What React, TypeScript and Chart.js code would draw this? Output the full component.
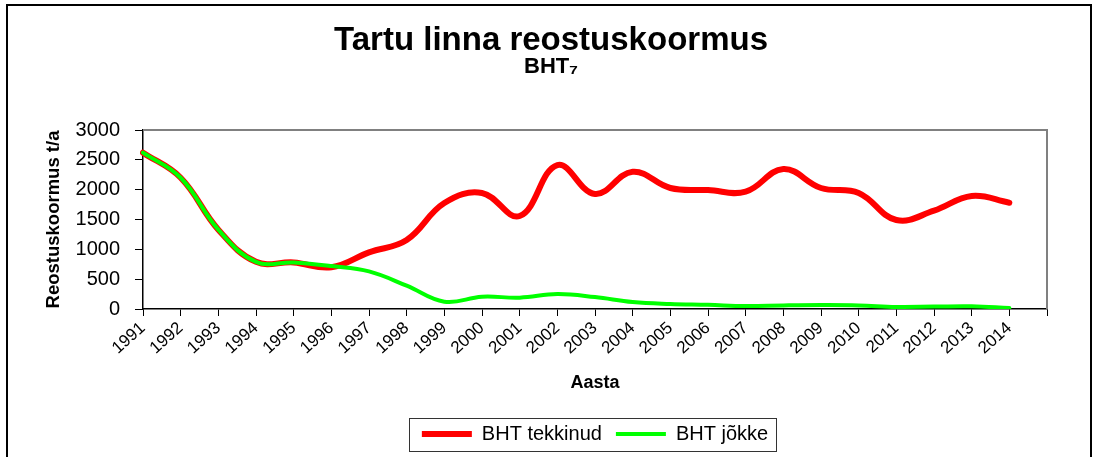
import React, { useEffect, useRef } from 'react';
import { Chart, registerables } from 'chart.js';

Chart.register(...registerables);

const years = ['1991', '1992', '1993', '1994', '1995', '1996', '1997', '1998', '1999', '2000', '2001', '2002', '2003', '2004', '2005', '2006', '2007', '2008', '2009', '2010', '2011', '2012', '2013', '2014'];
const xTickLabels = [...years, ''];
const bhtTekkinud = [2620, 2200, 1330, 790, 780, 700, 950, 1156, 1776, 1944, 1558, 2413, 1927, 2301, 2028, 1994, 1966, 2346, 2028, 1944, 1491, 1648, 1893, 1782];
const bhtJokke = [2620, 2200, 1330, 790, 780, 720, 630, 390, 122, 206, 190, 250, 200, 117, 84, 70, 50, 60, 65, 60, 35, 40, 45, 15];
const yTicks = [0, 500, 1000, 1500, 2000, 2500, 3000];

const FONT = '"Liberation Sans", Arial, sans-serif';

const plotFrame = {
  id: 'plotFrame',
  beforeDatasetsDraw(chart: any) {
    const { ctx, chartArea } = chart;
    const { left, right, top, bottom } = chartArea;
    ctx.save();
    ctx.strokeStyle = '#808080';
    ctx.lineWidth = 2;
    ctx.beginPath();
    ctx.moveTo(left, top);
    ctx.lineTo(right, top);
    ctx.lineTo(right, bottom);
    ctx.stroke();
    ctx.restore();
  },
};

const legendBorder = {
  id: 'legendBorder',
  afterDraw(chart: any) {
    const lg = chart.legend;
    if (!lg || !lg.legendHitBoxes || !lg.legendHitBoxes.length) return;
    const hb = lg.legendHitBoxes;
    const left = Math.min(...hb.map((h: any) => h.left)) - 13;
    const right = Math.max(...hb.map((h: any) => h.left + h.width)) + 8;
    const cy = hb[0].top + hb[0].height / 2;
    const ctx = chart.ctx;
    ctx.save();
    ctx.strokeStyle = '#333';
    ctx.lineWidth = 1;
    ctx.strokeRect(Math.round(left) + 0.5, Math.round(cy - 16) + 0.5, Math.round(right - left), 33);
    ctx.restore();
  },
};

export default function App() {
  const ref = useRef<HTMLCanvasElement>(null);
  useEffect(() => {
    const chart = new Chart(ref.current as HTMLCanvasElement, {
      type: 'line',
      data: {
        labels: xTickLabels,
        datasets: [
          {
            label: 'BHT jõkke',
            data: bhtJokke,
            borderColor: '#00ff00',
            backgroundColor: '#00ff00',
            borderWidth: 4,
            pointRadius: 0,
            tension: 0.4,
            fill: false,
            borderCapStyle: 'round',
          },
          {
            label: 'BHT tekkinud',
            data: bhtTekkinud,
            borderColor: '#ff0000',
            backgroundColor: '#ff0000',
            borderWidth: 6,
            pointRadius: 0,
            tension: 0.4,
            fill: false,
            borderCapStyle: 'round',
          },
        ],
      },
      options: {
        responsive: false,
        animation: false,
        devicePixelRatio: 1,
        layout: { padding: { left: 8, right: 0, top: 0, bottom: 3 } },
        font: { family: FONT },
        plugins: {
          title: {
            display: true,
            text: 'Tartu linna reostuskoormus',
            color: '#000',
            font: { family: FONT, size: 33, weight: 'bold', lineHeight: 1 },
            padding: { top: 24, bottom: 0 },
          },
          subtitle: {
            display: true,
            text: 'BHT₇',
            color: '#000',
            font: { family: FONT, size: 22, weight: 'bold', lineHeight: 1 },
            padding: { top: -1, bottom: 52 },
          },
          legend: {
            display: true,
            position: 'bottom',
            fullSize: false,
            labels: {
              usePointStyle: true,
              pointStyle: 'line',
              pointStyleWidth: 50,
              color: '#000',
              font: { family: FONT, size: 20 },
              padding: 14,
              sort: (a: any, b: any) => b.datasetIndex - a.datasetIndex,
            },
          },
          tooltip: { enabled: false },
        },
        scales: {
          x: {
            type: 'category',
            offset: false,
            border: { color: '#000', width: 1.5 },
            grid: { display: true, drawOnChartArea: false, drawTicks: true, tickLength: 7, color: '#000', lineWidth: 1 },
            ticks: { autoSkip: false, maxRotation: 42, minRotation: 42, color: '#000', font: { family: FONT, size: 17 }, padding: 2 },
            title: {
              display: true,
              text: 'Aasta',
              color: '#000',
              font: { family: FONT, size: 18, weight: 'bold' },
              padding: { top: 4, bottom: 16 },
            },
            afterFit: (s: any) => {
              s.height = 101;
            },
          },
          y: {
            min: 0,
            max: 3000,
            afterBuildTicks: (s: any) => {
              s.ticks = yTicks.map((v) => ({ value: v }));
            },
            border: { color: '#000', width: 1.5 },
            grid: { display: true, drawOnChartArea: false, drawTicks: true, tickLength: 8, color: '#000', lineWidth: 1 },
            ticks: { color: '#000', font: { family: FONT, size: 20 }, padding: 15, callback: (v: any) => String(v) },
            title: {
              display: true,
              text: 'Reostuskoormus t/a',
              color: '#000',
              font: { family: FONT, size: 18.5, weight: 'bold' },
              padding: { top: 35, bottom: 0 },
            },
            afterFit: (s: any) => {
              s.width = 135;
            },
          },
          yRight: {
            position: 'right',
            display: true,
            min: 0,
            max: 3000,
            grid: { display: false, drawTicks: false },
            border: { display: false },
            ticks: { display: false },
            afterFit: (s: any) => {
              s.width = 47;
            },
          },
        },
      },
      plugins: [plotFrame, legendBorder],
    } as any);
    return () => chart.destroy();
  }, []);

  return (
    <div style={{ position: 'fixed', left: 0, top: 0, width: 1094, height: 457, background: '#fff', overflow: 'hidden' }}>
      <div
        style={{
          position: 'absolute',
          left: 6,
          top: 4,
          width: 1082,
          height: 480,
          borderTop: '2px solid #000',
          borderLeft: '2px solid #000',
          borderRight: '2px solid #000',
        }}
      />
      <canvas ref={ref} width={1094} height={457} style={{ position: 'absolute', left: 0, top: 0, width: 1094, height: 457 }} />
    </div>
  );
}
